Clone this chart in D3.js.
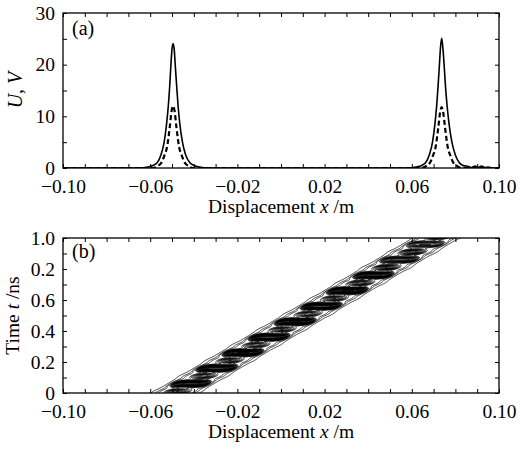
<!DOCTYPE html>
<html>
<head>
<meta charset="utf-8">
<script src="https://cdn.jsdelivr.net/npm/d3@7"></script>
<style>
  body { margin: 0; background: #fff; }
  svg { display: block; font-family: "Liberation Serif", "DejaVu Serif", serif; }
</style>
</head>
<body>
<svg id="chart" width="520" height="455"></svg>
<script>
// ---- panel (a): profiles U, V along x ----
const solidX = [-0.1, -0.08, -0.0655, -0.061, -0.0587, -0.0568, -0.055, -0.0536, -0.0525, -0.0517, -0.0511, -0.0506, -0.05, -0.0495,
  -0.049, -0.0484, -0.0478, -0.0472, -0.0464, -0.0452, -0.0438, -0.0418, -0.0399, -0.0375, -0.033, 0.0, 0.0575,
  0.062, 0.0645, 0.0663, 0.0681, 0.0695, 0.0706, 0.0714, 0.072, 0.0726, 0.0732, 0.0737, 0.0742, 0.0749, 0.0755,
  0.0762, 0.0771, 0.0784, 0.0799, 0.0818, 0.0835, 0.086, 0.0875, 0.089, 0.0905, 0.092, 0.0935, 0.095, 0.097, 0.1];
const solidU = [0, 0, 0, 0.2, 0.5, 1.0, 2.6, 5.0, 8.5, 12, 15.5, 19.2, 23, 24.1,
  23, 19.2, 15.5, 12, 8.5, 5, 2.6, 1.0, 0.5, 0.2, 0, 0, 0,
  0.2, 0.5, 1.0, 2.6, 5.0, 8.5, 12, 15.5, 19.5, 23.5, 25.1, 23.5, 19.5, 15.5,
  12, 8.5, 5, 2.6, 1.0, 0.5, 0.3, 0.1, 0.4, 0.1, 0.4, 0.1, 0.2, 0, 0];

const dashedX = [-0.1, -0.07, -0.0587, -0.0565, -0.0549, -0.0535, -0.0523, -0.051, -0.0502, -0.0495, -0.0488, -0.048,
  -0.0467, -0.0455, -0.0441, -0.0425, -0.0403, 0.0, 0.0645, 0.0667, 0.0683, 0.0697, 0.0709, 0.0722, 0.073, 0.0737,
  0.0744, 0.0752, 0.0765, 0.0777, 0.0791, 0.0807, 0.0829, 0.1];
const dashedU = [0, 0, 0, 0.4, 1.0, 2.4, 4, 8, 11, 12, 11, 8,
  4, 2.4, 1.0, 0.4, 0, 0, 0, 0.4, 1.0, 2.4, 4, 8, 10.8, 11.8,
  10.8, 8, 4, 2.4, 1.0, 0.4, 0, 0];

// ---- panel (b): contour map of the moving packet ----
const trackT = [0, 0.5, 1.0];
const trackX = [-0.0486, 0.0113, 0.0711];
// dark (dense) blocks and hatched blocks along the track
const darkT = [0.06, 0.16, 0.26, 0.36, 0.46, 0.56, 0.66, 0.76, 0.86, 0.96];
const darkA = [3.5, 4, 4, 4, 4, 4, 4, 3.5, 2.5, 2];
const hatchT = [0.01, 0.11, 0.21, 0.31, 0.41, 0.51, 0.61, 0.71, 0.81, 0.91, 1.01];
const hatchA = [2, 2, 2, 2, 2, 2, 2, 2.2, 2.4, 2.4, 2.4];

const xTicks = d3.range(-10, 11).map(d => d / 100);
const xLabels = [-0.10, -0.06, -0.02, 0.02, 0.06, 0.10];
const uTicks = [0, 5, 10, 15, 20, 25, 30];
const uLabels = [0, 10, 20, 30];
const tTicks = d3.range(0, 11).map(d => d / 10);
const tLabels = [0, 0.2, 0.4, 0.6, 0.8, 1.0];
const tLabelText = ["0", "0.2", "0.4", "0.6", "0.2", "1.0"];

const svg = d3.select('#chart');
const margin = { left: 63, right: 21 };
const plotW = 520 - margin.left - margin.right;
const fmt = d => (d < 0 ? '\u2212' : '') + Math.abs(d).toFixed(2);

const x = d3.scaleLinear().domain([-0.1, 0.1]).range([margin.left, margin.left + plotW]);

function frame(top, bottom, y, yTicks, yLab, yText) {
  const g = svg.append('g');
  const near = (arr, v) => arr.findIndex(a => Math.abs(a - v) < 1e-9);
  g.append('g').attr('transform', `translate(0,${bottom})`)
    .call(d3.axisBottom(x).tickValues(xTicks).tickSizeInner(-4).tickSizeOuter(0).tickPadding(11)
      .tickFormat(d => near(xLabels, d) >= 0 ? fmt(d) : ''));
  g.append('g').attr('transform', `translate(0,${top})`)
    .call(d3.axisTop(x).tickValues(xTicks).tickSizeInner(-4).tickSizeOuter(0).tickFormat(''));
  g.append('g').attr('transform', `translate(${margin.left},0)`)
    .call(d3.axisLeft(y).tickValues(yTicks).tickSizeInner(-4).tickSizeOuter(0).tickPadding(8)
      .tickFormat(d => { const i = near(yLab, d); return i >= 0 ? yText[i] : ''; }));
  g.append('g').attr('transform', `translate(${margin.left + plotW},0)`)
    .call(d3.axisRight(y).tickValues(yTicks).tickSizeInner(-4).tickSizeOuter(0).tickFormat(''));
  g.selectAll('.domain').remove();
  g.selectAll('g').attr('font-family', null).attr('font-size', null);
  g.selectAll('.tick line').attr('stroke', '#000').attr('stroke-width', 1);
  g.selectAll('.tick text').attr('fill', '#000').style('font-size', '19.5px')
    .style('font-family', '"Liberation Serif", serif');
  g.append('rect').attr('x', margin.left).attr('y', top).attr('width', plotW).attr('height', bottom - top)
    .attr('fill', 'none').attr('stroke', '#000').attr('stroke-width', 1.3);
  const xt = g.append('text').attr('x', margin.left + plotW / 2).attr('y', bottom + 45)
    .attr('text-anchor', 'middle').style('font-size', '19.5px');
  xt.append('tspan').text('Displacement ');
  xt.append('tspan').attr('font-style', 'italic').text('x');
  xt.append('tspan').text(' /m');
  return g;
}

// ---------- panel (a) ----------
const aTop = 13, aBottom = 168;
const yU = d3.scaleLinear().domain([0, 30]).range([aBottom, aTop]);

svg.append('clipPath').attr('id', 'clipA').append('rect')
  .attr('x', margin.left).attr('y', aTop).attr('width', plotW).attr('height', aBottom - aTop);

const line = d3.line().x(d => x(d[0])).y(d => yU(d[1])).curve(d3.curveMonotoneX);
const plotA = svg.append('g').attr('clip-path', 'url(#clipA)');
plotA.append('path').datum(d3.zip(solidX, solidU)).attr('d', line)
  .attr('fill', 'none').attr('stroke', '#000').attr('stroke-width', 1.6);
plotA.append('path').datum(d3.zip(dashedX, dashedU)).attr('d', line)
  .attr('fill', 'none').attr('stroke', '#000').attr('stroke-width', 2.2).attr('stroke-dasharray', '5,3');

frame(aTop, aBottom, yU, uTicks, uLabels, uLabels.map(String));

svg.append('text').attr('x', 72).attr('y', 35).style('font-size', '20px').text('(a)');
const ua = svg.append('text').attr('transform', 'translate(22,90) rotate(-90)')
  .attr('text-anchor', 'middle').style('font-size', '20px');
ua.append('tspan').attr('font-style', 'italic').text('U');
ua.append('tspan').text(', ');
ua.append('tspan').attr('font-style', 'italic').text('V');

// ---------- panel (b) ----------
const bTop = 238, bBottom = 393;
const yT = d3.scaleLinear().domain([0, 1]).range([bBottom, bTop]);
const track = d3.scaleLinear().domain(trackT).range(trackX);

svg.append('clipPath').attr('id', 'clipB').append('rect')
  .attr('x', margin.left).attr('y', bTop).attr('width', plotW).attr('height', bBottom - bTop);

const nx = Math.round(plotW), ny = bBottom - bTop + 4;
const bandW = 0.0085, base = 0.6;
const values = new Float64Array(nx * ny);
for (let j = 0; j < ny; j++) {
  const t = yT.invert(bTop - 2 + j + 0.5);
  const xc = track(t);
  let md = 0, mh = 0;
  darkT.forEach((tk, k) => { md += darkA[k] * Math.exp(-Math.pow((t - tk) / 0.017, 2)); });
  hatchT.forEach((tk, k) => { mh += hatchA[k] * Math.exp(-Math.pow((t - tk) / 0.016, 2)); });
  for (let i = 0; i < nx; i++) {
    const xi = (x.invert(margin.left + i + 0.5) - xc) / bandW;
    const a = Math.abs(xi);
    const edge = Math.exp(-a * a * a * 1.3);
    const box = Math.exp(-Math.pow(a / 0.95, 8));
    const soft = Math.exp(-a * a * 2.6);
    values[i + j * nx] = base * edge + md * box + mh * soft;
  }
}
const levels = [0.05, 0.2, 0.4].concat(d3.range(0.95, 5, 0.2));
const contours = d3.contours().size([nx, ny]).thresholds(levels)(values);
const cpath = d3.geoPath(d3.geoIdentity().translate([margin.left, bTop - 2]));
svg.append('g').attr('clip-path', 'url(#clipB)')
  .selectAll('path').data(contours).join('path')
  .attr('d', cpath).attr('fill', 'none').attr('stroke', '#000').attr('stroke-width', 0.75);

frame(bTop, bBottom, yT, tTicks, tLabels, tLabelText);

svg.append('text').attr('x', 72).attr('y', 258).style('font-size', '20px').text('(b)');
const tb = svg.append('text').attr('transform', 'translate(19,315.5) rotate(-90)')
  .attr('text-anchor', 'middle').style('font-size', '19.5px');
tb.append('tspan').text('Time ');
tb.append('tspan').attr('font-style', 'italic').text('t');
tb.append('tspan').text(' /ns');
</script>
</body>
</html>
